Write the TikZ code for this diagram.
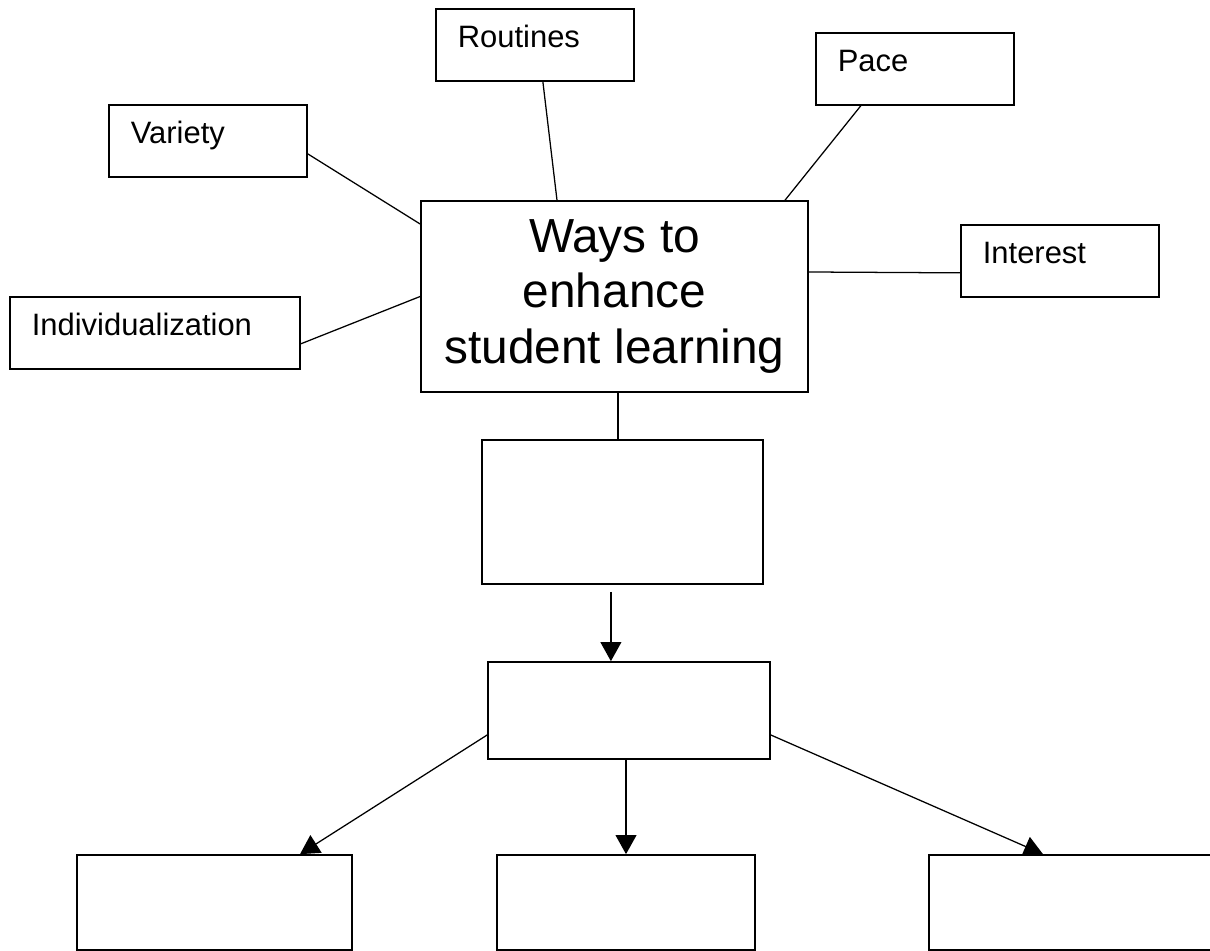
\documentclass[tikz,border=0pt]{standalone}
\usepackage{fontspec}
\setmainfont{Liberation Sans}
\usetikzlibrary{arrows.meta, positioning, backgrounds}

\begin{document}
\begin{tikzpicture}[
        x=0.025cm, y=-0.025cm,
        topic/.style={rectangle, draw, line width=1.2pt, fill=white, anchor=north west, align=left, text width=3.85cm, inner xsep=0.55cm, inner ysep=0pt, text height=0.975cm, text depth=0.825cm, font=\fontsize{22pt}{26pt}\selectfont},
        hubbox/.style={rectangle, draw, line width=1.2pt, fill=white, minimum width=9.675cm, minimum height=4.775cm, align=center, font=\fontsize{34pt}{39.5pt}\selectfont},
        blank/.style={rectangle, draw, line width=1.2pt, fill=white},
        link/.style={line width=0.9pt},
        arrow/.style={-{Triangle[width=0.52cm, length=0.475cm]}, line width=0.9pt},
    ]
        \useasboundingbox (0,0) rectangle (1210,951);
        \clip (0,0) rectangle (1210,951);

        % central topic and its spokes
        \node[hubbox] (hub) at (614.5,296.5) {Ways to\\enhance\\student learning};
        \node[topic] (routines) at (435,8) {Routines};
        \node[topic] (pace) at (815,32) {Pace};
        \node[topic] (variety) at (108,104) {Variety};
        \node[topic] (interest) at (960,224) {Interest};
        \node[topic, text width=6.15cm] (indiv) at (9,296) {Individualization};

        % empty boxes below
        \node[blank, minimum width=7.025cm, minimum height=3.6cm] (goal) at (622.5,512) {};
        \node[blank, minimum width=7.05cm, minimum height=2.425cm] (split) at (629,710.5) {};
        \node[blank, minimum width=6.875cm, minimum height=2.375cm] (leftleaf) at (214.5,902.5) {};
        \node[blank, minimum width=6.45cm, minimum height=2.375cm] (midleaf) at (626,902.5) {};
        \node[blank, minimum width=7.15cm, minimum height=2.375cm] (rightleaf) at (1072,902.5) {};

        \begin{scope}[on background layer]
            \draw[link] ([xshift=0.2cm]routines.south) -- ([xshift=-1.4375cm]hub.north);
            \draw[link] ([xshift=-1.35cm]pace.south) -- ([xshift=4.2625cm]hub.north);
            \draw[link] ([yshift=-0.325cm]variety.east) -- ([yshift=1.8125cm]hub.west);
            \draw[link] ([yshift=-0.275cm]indiv.east) -- (hub.west);
            \draw[link] ([yshift=0.6125cm]hub.east) -- ([yshift=-0.3cm]interest.west);

            \coordinate (hubfoot) at ([xshift=0.0875cm]hub.south);
            \draw[link] (hubfoot) -- (hubfoot |- goal.north);
            \coordinate (goalfoot) at ([xshift=-0.29cm, yshift=-0.175cm]goal.south);
            \draw[arrow] (goalfoot) -- (goalfoot |- split.north);

            \draw[arrow] ([yshift=-0.6125cm]split.west) -- ([xshift=2.1375cm]leftleaf.north);
            \draw[arrow] (split.south -| midleaf.north) -- (midleaf.north);
            \draw[arrow] ([yshift=-0.6125cm]split.east) -- ([xshift=-0.725cm]rightleaf.north);
        \end{scope}
    \end{tikzpicture}
\end{document}
